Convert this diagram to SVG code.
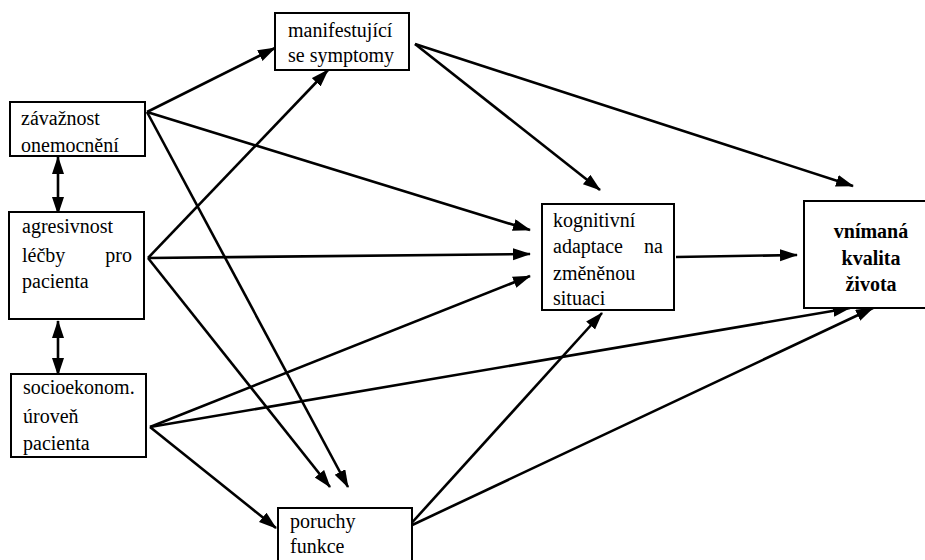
<svg xmlns="http://www.w3.org/2000/svg" width="925" height="560" viewBox="0 0 925 560">
<style>
rect.b{fill:#fff;stroke:#000;stroke-width:2}
text{font-family:"Liberation Serif","DejaVu Serif","Times New Roman",serif;font-size:20px;fill:#000}
text.bold{font-weight:bold;text-anchor:middle}
#connectors line{stroke:#000;stroke-width:2.6;marker-end:url(#ah)}
#connectors line.dbl{marker-start:url(#ah)}
</style>
<defs>
<marker id="ah" markerUnits="userSpaceOnUse" markerWidth="20" markerHeight="14" refX="17" refY="6" orient="auto-start-reverse">
<path d="M0,0 L18,6 L0,12 z" fill="#000"/>
</marker>
</defs>
<rect width="925" height="560" fill="#fff"/>
<g id="connectors">
<line x1="147" y1="112" x2="275" y2="48"/>
<line x1="147" y1="112" x2="530" y2="230"/>
<line x1="147" y1="112" x2="348" y2="487"/>
<line x1="148" y1="258" x2="328" y2="70"/>
<line x1="148" y1="258" x2="530" y2="254"/>
<line x1="148" y1="258" x2="330" y2="487"/>
<line x1="150" y1="427" x2="530" y2="276"/>
<line x1="150" y1="427" x2="850" y2="308"/>
<line x1="150" y1="427" x2="276" y2="528"/>
<line x1="415" y1="44" x2="600" y2="190"/>
<line x1="415" y1="44" x2="853" y2="186"/>
<line x1="676" y1="257" x2="797" y2="255"/>
<line x1="408" y1="527" x2="602" y2="313"/>
<line x1="408" y1="527" x2="873" y2="308"/>
<line class="dbl" x1="58" y1="157" x2="58" y2="214"/>
<line class="dbl" x1="58" y1="321" x2="58" y2="375"/>
</g>
<g id="zavaznost">
<rect class="b" x="10" y="102" width="135" height="54"/>
<text x="21" y="125">závažnost</text>
<text x="21" y="152">onemocnění</text>
</g>
<g id="agresivnost">
<rect class="b" x="9" y="212" width="135" height="107"/>
<text x="22" y="233">agresivnost</text>
<text x="22" y="262">léčby</text>
<text x="132" y="262" text-anchor="end">pro</text>
<text x="22" y="288">pacienta</text>
</g>
<g id="socioekonom">
<rect class="b" x="11" y="374" width="135" height="83"/>
<text x="23" y="394">socioekonom.</text>
<text x="23" y="423">úroveň</text>
<text x="23" y="450">pacienta</text>
</g>
<g id="manifestujici">
<rect class="b" x="275" y="13" width="134" height="57"/>
<text x="288" y="37">manifestující</text>
<text x="288" y="62">se symptomy</text>
</g>
<g id="kognitivni">
<rect class="b" x="542" y="204" width="132" height="106"/>
<text x="553" y="227">kognitivní</text>
<text x="553" y="253">adaptace</text>
<text x="663" y="253" text-anchor="end">na</text>
<text x="553" y="280">změněnou</text>
<text x="553" y="305">situaci</text>
</g>
<g id="vnimana">
<rect class="b" x="804" y="201" width="130" height="107"/>
<text class="bold" x="871" y="238">vnímaná</text>
<text class="bold" x="871" y="265">kvalita</text>
<text class="bold" x="871" y="291">života</text>
</g>
<g id="poruchy">
<rect class="b" x="278" y="508" width="134" height="60"/>
<text x="290" y="528">poruchy</text>
<text x="290" y="553">funkce</text>
</g>
</svg>
